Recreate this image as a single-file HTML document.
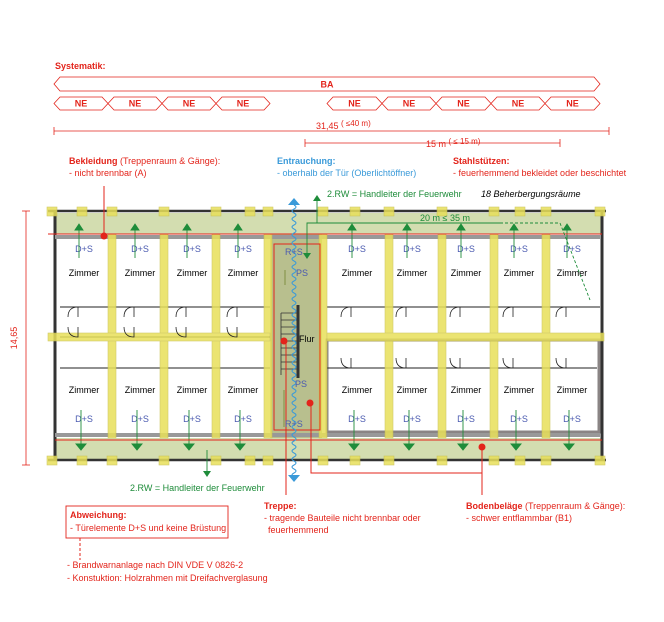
<!DOCTYPE html>
<html><head><meta charset="utf-8"><style>
body{margin:0;background:#fff;}
svg{display:block;font-family:"Liberation Sans",Arial,sans-serif;}
.r{fill:#e3241b;font-size:9px}
.b{font-weight:bold}
</style></head><body>
<svg id="plan" width="664" height="622" viewBox="0 0 664 622" xmlns="http://www.w3.org/2000/svg">
<text class="r b" x="55" y="69">Systematik:</text>
<g id="ba" fill="none" stroke="#e3241b" stroke-width="0.8">
<polygon points="54,84 60,77 594,77 600,84 594,91 60,91"/>
</g>
<text class="r b" x="327" y="87.5" text-anchor="middle">BA</text>
<g id="ne"></g>
<g stroke="#e3241b" stroke-width="0.8">
<line x1="54" y1="131" x2="609" y2="131"/><line x1="54" y1="127" x2="54" y2="135"/><line x1="609" y1="127" x2="609" y2="135"/>
<line x1="305" y1="143" x2="560" y2="143"/><line x1="305" y1="139" x2="305" y2="147"/><line x1="560" y1="139" x2="560" y2="147"/>
<line x1="26" y1="211" x2="26" y2="465"/><line x1="22" y1="211" x2="30" y2="211"/><line x1="22" y1="465" x2="30" y2="465"/>
</g>
<text class="r" x="316" y="129">31,45 <tspan font-size="8" dy="-3">( ≤40 m)</tspan></text>
<text class="r" x="426" y="147">15 m <tspan font-size="8" dy="-3">( ≤ 15 m)</tspan></text>
<text class="r" transform="translate(17,338) rotate(-90)" text-anchor="middle">14,65</text>
<text class="r" x="69" y="164"><tspan class="b">Bekleidung</tspan> (Treppenraum &amp; Gänge):</text>
<text class="r" x="69" y="176">- nicht brennbar (A)</text>
<text x="277" y="164" font-size="9" fill="#3a9ad9" font-weight="bold">Entrauchung:</text>
<text x="277" y="176" font-size="9" fill="#3a9ad9">- oberhalb der Tür (Oberlichtöffner)</text>
<text class="r b" x="453" y="164">Stahlstützen:</text>
<text class="r" x="453" y="176">- feuerhemmend bekleidet oder beschichtet</text>
<text x="327" y="197" font-size="9" fill="#1e8c3a">2.RW = Handleiter der Feuerwehr</text>
<text x="481" y="197" font-size="9" font-style="italic" fill="#000">18 Beherbergungsräume</text>
<rect x="55" y="213" width="546" height="21" fill="#d3ddb0"/>
<rect x="55" y="438" width="546" height="21" fill="#d3ddb0"/>
<rect x="270" y="234" width="52" height="204" fill="#b8bf8e"/>
<rect x="327" y="340" width="272" height="92" fill="#fff" stroke="#8a8484" stroke-width="3"/>
<g stroke="#333" fill="none">
<line x1="48" y1="211" x2="606" y2="211" stroke-width="2.5"/>
<line x1="48" y1="460" x2="606" y2="460" stroke-width="2.5"/>
<line x1="55" y1="211" x2="55" y2="460" stroke-width="3"/>
<line x1="602" y1="211" x2="602" y2="460" stroke-width="3"/>
<line x1="55" y1="237" x2="600" y2="237" stroke="#999" stroke-width="4"/>
<line x1="55" y1="435" x2="600" y2="435" stroke="#999" stroke-width="4"/>
<line x1="60" y1="307" x2="270" y2="307" stroke="#222" stroke-width="1"/>
<line x1="60" y1="337" x2="270" y2="337" stroke="#222" stroke-width="1"/>
<line x1="327" y1="307" x2="600" y2="307" stroke="#222" stroke-width="1"/>
<line x1="327" y1="368" x2="597" y2="368" stroke="#222" stroke-width="1"/>
<line x1="60" y1="368" x2="270" y2="368" stroke="#222" stroke-width="1"/>
</g>
<g id="beams" fill="#e8e05a" stroke="#c8c050" stroke-width="0.6" opacity="0.85"></g>
<g id="stair" stroke="#333" stroke-width="0.8"></g>
<g id="rooms"></g>
<g stroke="#e3241b" fill="none" stroke-width="1">
<line x1="48" y1="234" x2="602" y2="234"/>
<line x1="55" y1="440" x2="602" y2="440"/>
<rect x="274" y="244" width="46" height="186"/>
<line x1="104" y1="186" x2="104" y2="236"/>
<line x1="286" y1="340" x2="286" y2="495"/>
<polyline points="311,403 311,473 482,473 482,448"/>
<line x1="482" y1="473" x2="482" y2="495"/>
</g>
<g fill="#e3241b">
<circle cx="104" cy="236" r="3.5"/><circle cx="284" cy="341" r="3.5"/><circle cx="310" cy="403" r="3.5"/><circle cx="482" cy="447" r="3.5"/>
</g>
<path fill="none" stroke="#3a9ad9" stroke-width="1" id="smoke"/>
<polygon points="288,205 294,198 300,205" fill="#3a9ad9"/>
<polygon points="288,475 294,482 300,475" fill="#3a9ad9"/>
<g stroke="#1e8c3a" fill="none" stroke-width="0.9">
<line x1="317" y1="196" x2="317" y2="223"/>
<polyline points="307,258 307,223 500,223"/>
<polyline points="500,223 560,223 590,300" stroke-dasharray="3,2"/>
<line x1="207" y1="450" x2="207" y2="476"/>
<line x1="285" y1="270" x2="285" y2="285" stroke="#7a8a3a"/>
<line x1="284" y1="390" x2="284" y2="427" stroke="#7a8a3a"/>
</g>
<g fill="#1e8c3a">
<polygon points="313,201 317,195 321,201"/>
<polygon points="303,253 307,259 311,253"/>
<polygon points="203,471 207,477 211,471"/>
</g>
<text x="420" y="221" font-size="9" fill="#1e8c3a">20 m ≤ 35 m</text>
<text x="299" y="342" font-size="9" fill="#000">Flur</text>
<text x="296" y="276" font-size="9" fill="#4a5ab0">PS</text>
<text x="295" y="387" font-size="9" fill="#4a5ab0">PS</text>
<text x="285" y="255" font-size="9" fill="#4a5ab0">R+S</text>
<text x="285" y="427" font-size="9" fill="#4a5ab0">R+S</text>
<text x="130" y="491" font-size="9" fill="#1e8c3a">2.RW = Handleiter der Feuerwehr</text>
<text class="r b" x="264" y="509">Treppe:</text>
<text class="r" x="264" y="521">- tragende Bauteile nicht brennbar oder</text>
<text class="r" x="268" y="533">feuerhemmend</text>
<text class="r" x="466" y="509"><tspan class="b">Bodenbeläge</tspan> (Treppenraum &amp; Gänge):</text>
<text class="r" x="466" y="521">- schwer entflammbar (B1)</text>
<rect x="66" y="506" width="162" height="32" fill="none" stroke="#e3241b" stroke-width="0.9"/>
<text class="r b" x="70" y="518">Abweichung:</text>
<text class="r" x="70" y="531">- Türelemente D+S und keine Brüstung</text>
<line x1="80" y1="538" x2="80" y2="560" stroke="#e3241b" stroke-dasharray="3,2"/>
<text class="r" x="67" y="568">- Brandwarnanlage nach DIN VDE V 0826-2</text>
<text class="r" x="67" y="581">- Konstuktion: Holzrahmen mit Dreifachverglasung</text>
</svg>
<script>
const neEdgesLeft=[54,108,162,216,270];
const neEdgesRight=[327,382,436,491,545,600];
const colsX=[112,164,216,268,323,389,442,494,546];
const roomCentersTop=[84,140,192,243,357,412,466,519,572];
const stubX=[52,82,112,164,216,250,268,323,355,389,442,494,520,546,600];
const NS="http://www.w3.org/2000/svg";
function mk(t,a,p){const e=document.createElementNS(NS,t);for(const k in a)e.setAttribute(k,a[k]);p.appendChild(e);return e;}
const ne=document.getElementById('ne');
function neRow(edges){for(let i=0;i<edges.length-1;i++){const a=edges[i],b=edges[i+1],y=103.5;
const p=mk('polygon',{points:`${a},${y} ${a+6},${y-6.5} ${b-6},${y-6.5} ${b},${y} ${b-6},${y+6.5} ${a+6},${y+6.5}`,fill:'none',stroke:'#e3241b','stroke-width':0.8},ne);


const t=mk('text',{x:(a+b)/2,y:y+3,'text-anchor':'middle',class:'r b'},ne);t.textContent='NE';

}}
neRow(neEdgesLeft);neRow(neEdgesRight);
const beams=document.getElementById('beams');
colsX.forEach(x=>{const r=mk('rect',{x:x-4,y:234,width:8,height:204},beams);

});
[[48,333,222],[327,333,277]].forEach(([x,y,w])=>{const r=mk('rect',{x:x,y:y,width:w,height:8},beams);

});
stubX.forEach(x=>{[207,456].forEach(y=>{const r=mk('rect',{x:x-5,y:y,width:10,height:9},beams);

});});
const st=document.getElementById('stair');
for(let y=313;y<=375;y+=7){mk('line',{x1:281,y1:y,x2:298,y2:y},st);}
mk('line',{x1:281,y1:313,x2:281,y2:375},st);mk('line',{x1:298,y1:305,x2:298,y2:378,'stroke-width':3},st);
const rooms=document.getElementById('rooms');
roomCentersTop.forEach((cx,i)=>{
[[276,252,-1],[393,422,1]].forEach(([zy,dy,dir])=>{
const t=mk('text',{x:cx,y:zy,'text-anchor':'middle','font-size':9,fill:'#000'},rooms);t.textContent='Zimmer';


const d=mk('text',{x:cx,y:dy,'text-anchor':'middle','font-size':9,fill:'#4a5ab0'},rooms);d.textContent='D+S';


const g=mk('g',{stroke:'#1e8c3a',fill:'#1e8c3a','stroke-width':0.9},rooms);


if(dir<0){mk('line',{x1:cx-5,y1:258,x2:cx-5,y2:226},g);mk('polygon',{points:`${cx-9},230 ${cx-5},224 ${cx-1},230`},g);}
else{mk('line',{x1:cx-3,y1:410,x2:cx-3,y2:446},g);mk('polygon',{points:`${cx-8},444 ${cx-3},450 ${cx+2},444`},g);}
});
[[307,1],[i>=4?368:337,-1]].forEach(([y,s])=>{
const p=mk('path',{d:`M${cx-16} ${y+s*10} q0 ${-s*10} 10 ${-s*10} L${cx-6} ${y+s*10}`,fill:'none',stroke:'#222','stroke-width':0.8},rooms);

});
});
let d='M294 205';for(let y=205;y<475;y+=8){d+=' q4 2 0 4 q-4 2 0 4';}
document.getElementById('smoke').setAttribute('d',d);
</script>
</body></html>
